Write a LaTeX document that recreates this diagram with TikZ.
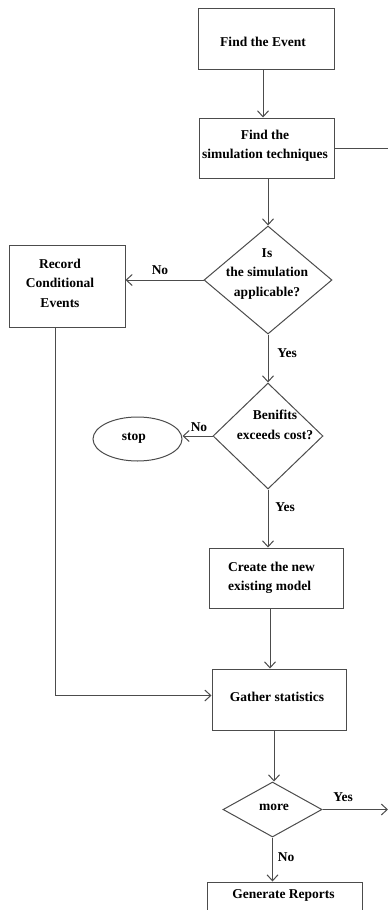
\documentclass[tikz,border=0pt]{standalone}
\usepackage{fontspec}
\setmainfont{Liberation Serif}
\usetikzlibrary{shapes.geometric,arrows.meta}
\begin{document}
\begin{tikzpicture}[x=1pt,y=-1pt,
  ln/.style={draw=gray!60!black, line width=1pt},
  arr/.style={ln, -{Straight Barb[length=6pt,width=11pt]}},
  box/.style={draw=gray!60!black, line width=1pt, rectangle, inner sep=0pt},
  dia/.style={draw=gray!60!black, line width=1pt, diamond, inner sep=0pt},
  oval/.style={draw=gray!60!black, line width=1pt, ellipse, inner sep=0pt},
  txt/.style={font=\fontsize{13.5}{19.5}\selectfont\bfseries, align=center, inner sep=0pt},
  lbl/.style={font=\fontsize{13.5}{16}\selectfont\bfseries, inner sep=0pt}]
\clip (0,0) rectangle (388,910);
\fill[white] (0,0) rectangle (388,910);

% shapes
\node[box, minimum width=136pt, minimum height=61pt] (ev) at (266,38.5) {};
\node[box, minimum width=135pt, minimum height=60pt] (sim) at (266.5,148) {};
\node[dia, minimum width=128pt, minimum height=108pt] (d1) at (268,280) {};
\node[box, minimum width=116pt, minimum height=82pt] (rec) at (67,286) {};
\node[dia, minimum width=110pt, minimum height=106pt] (d2) at (268,436) {};
\node[oval, minimum width=89pt, minimum height=44pt] (stop) at (137.5,439) {};
\node[box, minimum width=134pt, minimum height=60pt] (mod) at (276,578) {};
\node[box, minimum width=134pt, minimum height=61pt] (gat) at (279,699.5) {};
\node[dia, minimum width=99pt, minimum height=55pt] (d3) at (272.5,809.5) {};
\node[box, minimum width=155pt, minimum height=40pt] (rep) at (284.5,902) {};

% texts
\node[txt] (evT) at (263,42) {Find the Event};
\node[txt] (simT) at (265,146) {Find the\\simulation techniques};
\node[txt] (d1T) at (267,274) {Is\\the simulation\\applicable?};
\node[txt] (recT) at (60,283) {Record\\Conditional\\Events};
\node[txt] (d2T) at (275,425) {Benifits\\exceeds cost?};
\node[txt] (stopT) at (134,438) {stop};
\node[txt, align=left, anchor=west] (modT) at (228,578) {Create the new\\existing model};
\node[txt] (gatT) at (277,697) {Gather statistics};
\node[txt] (d3T) at (274,807) {more};
\node[txt] (repT) at (283.5,895) {Generate Reports};

% edge labels
\node[lbl] (no1) at (160,270) {No};
\node[lbl] (yes1) at (287,353) {Yes};
\node[lbl] (no2) at (199,427) {No};
\node[lbl] (yes2) at (285,507) {Yes};
\node[lbl] (yes3) at (343,797) {Yes};
\node[lbl] (no3) at (286,857) {No};

% connectors (kept straight: vertical or horizontal)
\coordinate (simOut) at (388,148);
\coordinate (moreOut) at (388,809.5);
\draw[arr] ([xshift=-3pt]ev.south) -- ([xshift=-3pt]ev.south |- sim.north);
\draw[ln] (sim.east) -- (simOut);
\draw[arr] (d1.north |- sim.south) -- (d1.north);
\draw[arr] (d1.west) -- (d1.west -| rec.east);
\draw[arr] (d1.south) -- (d2.north);
\draw[arr] (d2.west) -- (d2.west -| stop.east);
\draw[arr] (d2.south) -- (d2.south |- mod.north);
\draw[arr] ([xshift=-6pt]mod.south) -- ([xshift=-6pt]mod.south |- gat.north);
\draw[arr] ([xshift=-12pt]rec.south) |- ([yshift=4pt]gat.west);
\draw[arr] ([xshift=-5pt]gat.south) -- ([xshift=-5pt]gat.south |- d3.north);
\draw[arr] (d3.east) -- (moreOut);
\draw[arr] (d3.south) -- (d3.south |- rep.north);
\end{tikzpicture}
\end{document}
